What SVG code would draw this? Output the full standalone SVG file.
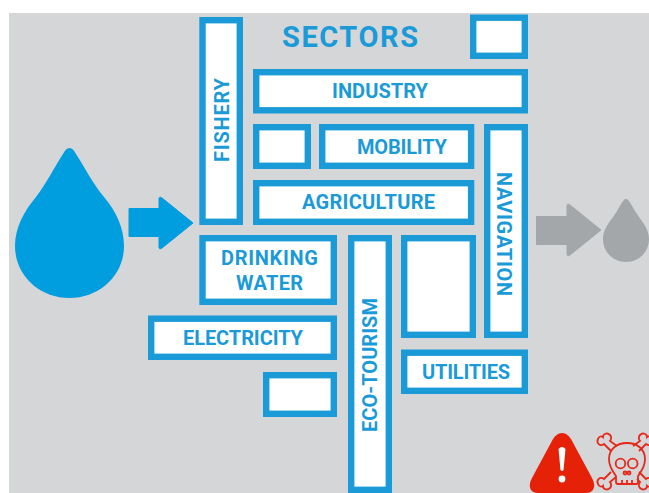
<svg xmlns="http://www.w3.org/2000/svg" width="649" height="493" viewBox="0 0 649 493">
<style>
.b{fill:#fff;stroke:#1b9ad8;stroke-width:6.400}
.t{font-family:"Roboto","Liberation Sans",sans-serif;font-weight:700;fill:#1b9ad8;font-size:20px;text-anchor:middle}
.s{fill:none;stroke:#e5281a;stroke-width:1.800}
</style>
<rect width="649" height="493" fill="#fff"/>
<rect x="9" y="13" width="640" height="480" fill="#d5d6d8"/>
<g id="source">
<path d="M69.500 148C72 148 74 150 76 154C85 168 93 184 104 197C116 211 124 228 124 246C124 275 100 298 69.500 298C39 298 15 275 15 246C15 228 24 211 36 197C46 184 54 168 63 154C65 150 67 148 69.500 148Z" fill="#009ddf"/>
<path d="M129 208.500H159V199Q159 196 162 198L193 223L162 248Q159 250 159 247V236.500H129Z" fill="#009ddf" stroke="#009ddf" stroke-linejoin="round"/>
</g>
<g id="sink">
<path d="M536.500 216.500H567V206Q567 203 570 205L601 230L570 255Q567 257 567 254V244.500H536.500Z" fill="#a4a7aa" stroke="#a4a7aa" stroke-linejoin="round"/>
<path d="M626 199C628 199 629 201 631 204C635 212 640 218 644 224C647 229 649 234 649 239C649 252 639 262 626 262C613 262 603 252 603 239C603 232 606 227 610 221C615 215 618 209 621 204C623 201 624 199 626 199Z" fill="#a4a7aa"/>
</g>
<text id="title" x="350" y="46.700" class="t" style="font-size:29px" textLength="136">SECTORS</text>
<g id="blank-top"><rect class="b" x="473.200" y="17.700" width="51.600" height="38.100"/></g>
<g id="fishery"><rect class="b" x="202.500" y="20.200" width="37.300" height="201.600"/><text class="t" transform="translate(229 120) rotate(-90)" textLength="84">FISHERY</text></g>
<g id="industry"><rect class="b" x="256.200" y="72.200" width="268.600" height="38.100"/><text class="t" x="380" y="98" textLength="96">INDUSTRY</text></g>
<g id="blank-small-1"><rect class="b" x="256.200" y="127.200" width="51.600" height="38.600"/></g>
<g id="mobility"><rect class="b" x="322.200" y="127.200" width="148.900" height="38.600"/><text class="t" x="402" y="154" textLength="90">MOBILITY</text></g>
<g id="agriculture"><rect class="b" x="256.200" y="183.200" width="214.900" height="38.600"/><text class="t" x="368.500" y="209.300" textLength="133">AGRICULTURE</text></g>
<g id="navigation"><rect class="b" x="487.200" y="127.200" width="37.600" height="207.600"/><text class="t" transform="translate(497 234) rotate(90)" textLength="124">NAVIGATION</text></g>
<g id="drinking-water"><rect class="b" x="202.500" y="238.200" width="131.300" height="63.600"/><text class="t" x="269.500" y="265" textLength="97">DRINKING</text><text class="t" x="269.500" y="289.500" textLength="67">WATER</text></g>
<g id="eco-tourism"><rect class="b" x="351.200" y="238.200" width="37.600" height="251.600"/><text class="t" transform="translate(377.300 365) rotate(-90)" textLength="134">ECO-TOURISM</text></g>
<g id="blank-tall"><rect class="b" x="404.200" y="238.200" width="68.600" height="96.600"/></g>
<g id="electricity"><rect class="b" x="151.200" y="318.700" width="182.600" height="38.100"/><text class="t" x="243" y="345" textLength="120">ELECTRICITY</text></g>
<g id="utilities"><rect class="b" x="404.200" y="352.700" width="120.600" height="38.100"/><text class="t" x="466" y="378.500" textLength="88">UTILITIES</text></g>
<g id="blank-small-2"><rect class="b" x="266.200" y="375.200" width="67.600" height="38.600"/></g>
<g id="warning">
<path d="M562 433C566 433 569 436 571 439L592 478C597 487 593 493 586 493H538C531 493 527 487 532 478L553 439C555 436 558 433 562 433Z" fill="#e52207"/>
<path d="M558.500 449Q562 445 565.500 449L563.500 470Q562 472 560.500 470Z" fill="#fff"/>
<circle cx="562" cy="479" r="3.400" fill="#fff"/>
</g>
<g id="skull" class="s">
<path d="M616 476C612 470 609 466 609 459C609 449 617 443 627 443C637 443 645 449 645 459C645 466 642 470 638 476V482Q638 484 636 484H618Q616 484 616 482Z"/>
<circle cx="620.500" cy="463.500" r="4.800"/><circle cx="632.700" cy="463.500" r="4.800"/>
<circle cx="625" cy="473" r="1.500"/><circle cx="629" cy="473" r="1.500"/>
<path d="M622 480V484M627 480V484M632 480V484"/>
<path d="M611 451L604 444C600 447 596 443 598 439C599 436 602 436 603 437C603 434 607 432 610 435C612 437 611 440 610 441L617 446"/>
<path d="M639 451L646 444C650 447 654 443 652 439C651 436 648 436 647 437C647 434 643 432 640 435C638 437 639 440 640 441L633 446"/>
<path d="M611 472L604 479C600 476 596 480 598 484C599 487 602 487 603 486C603 489 607 491 610 488C612 486 611 483 610 482L616 477"/>
<path d="M639 472L646 479C650 476 654 480 652 484C651 487 648 487 647 486C647 489 643 491 640 488C638 486 639 483 640 482L637 479"/>
</g>
</svg>
